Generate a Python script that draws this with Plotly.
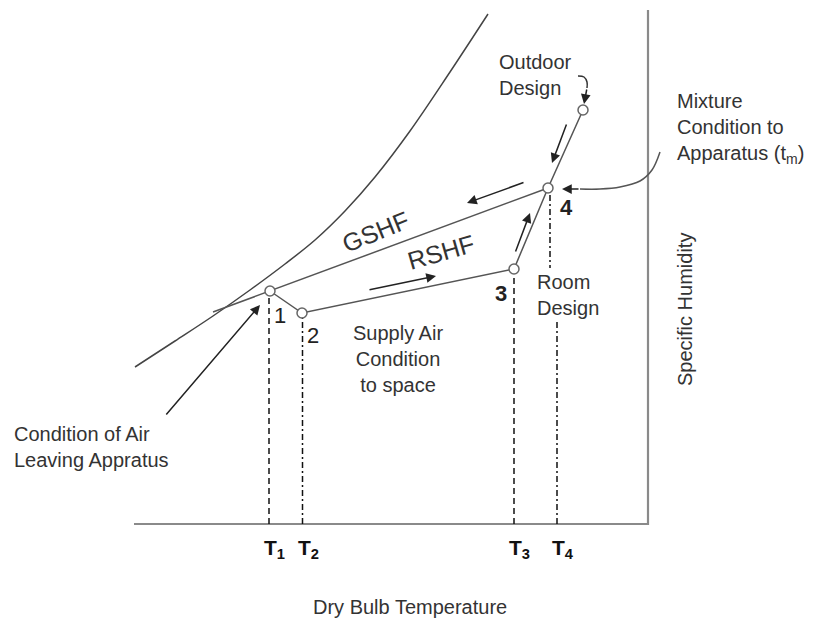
import plotly.graph_objects as go

# All values are read off the picture, in chart units
# (x grows to the right = dry bulb, y grows upward = specific humidity).

# saturation curve
sat_x = [135, 175, 213, 250, 285, 315, 345, 375, 410, 450, 488]
sat_y = [252, 278, 303, 329, 355, 379, 408, 442, 488, 547, 605]

# state points: 1 leaving apparatus, 2 supply, 3 room, 4 mixture, O outdoor
state_names = ["1", "2", "3", "4", "O"]
state_x = [270, 302, 514, 548, 583]
state_y = [328, 306, 350, 431, 509]

# apparatus dew point (GSHF line meets the saturation curve)
adp_x = 213
adp_y = 307

# axes frame
frame_x = [134, 648, 648]
frame_y = [95, 95, 609]

# temperature drop lines
t_labels = ["1", "2", "3", "4"]
t_x = [269, 302.5, 514, 557]
t_top = [322, 302, 342, 297]
t_dash = ["6px,4px", "6px,3px,2px,3px", "6px,4px", "6px,3px,2px,3px"]
t4_upper_x = 550
t4_upper_y = [424, 351]

# direction arrows (tail -> head)
arrow_tail_x = [525, 368, 515, 567, 165, 580, 587]
arrow_tail_y = [437, 329, 366, 496, 203, 430, 531]
arrow_head_x = [467, 436, 530, 552, 260, 562, 584]
arrow_head_y = [416, 343, 406, 456, 314, 430, 515]

# curved leader to the mixture point and small bracket at outdoor design
leader_x = [660, 652, 640, 620, 600, 580]
leader_y = [467, 449, 438, 432, 430, 430]
bracket_x = [578, 584, 587, 587]
bracket_y = [543, 542, 537, 531]

FONT = "Liberation Sans, Arial, sans-serif"
GREY = "#555555"

fig = go.Figure()

fig.add_trace(go.Scatter(x=frame_x, y=frame_y, mode="lines",
                         line=dict(color="#8a8a8a", width=2.2)))
fig.add_trace(go.Scatter(x=sat_x, y=sat_y, mode="lines",
                         line=dict(color="#444444", width=1.5, shape="spline", smoothing=1)))

# GSHF line from the dew point through 1 to 4
fig.add_trace(go.Scatter(x=[adp_x, state_x[0], state_x[3]],
                         y=[adp_y, state_y[0], state_y[3]], mode="lines",
                         line=dict(color=GREY, width=1.5)))
# process 1 -> 2 -> 3 -> 4 -> O
fig.add_trace(go.Scatter(x=state_x, y=state_y, mode="lines",
                         line=dict(color=GREY, width=1.5)))

for tx, top, dash in zip(t_x, t_top, t_dash):
    fig.add_trace(go.Scatter(x=[tx, tx], y=[frame_y[0], top], mode="lines",
                             line=dict(color="#111111", width=1.5, dash=dash)))
fig.add_trace(go.Scatter(x=[t4_upper_x, t4_upper_x], y=t4_upper_y, mode="lines",
                         line=dict(color="#111111", width=1.5, dash="6px,3px,2px,3px")))

fig.add_trace(go.Scatter(x=leader_x, y=leader_y, mode="lines",
                         line=dict(color=GREY, width=1.5, shape="spline")))
fig.add_trace(go.Scatter(x=bracket_x, y=bracket_y, mode="lines",
                         line=dict(color="#333333", width=1.5, shape="spline")))

fig.add_trace(go.Scatter(x=state_x, y=state_y, mode="markers",
                         marker=dict(symbol="circle", size=10, color="white",
                                     line=dict(color="#666666", width=1.5)),
                         text=state_names))

for tx0, ty0, hx, hy in zip(arrow_tail_x, arrow_tail_y, arrow_head_x, arrow_head_y):
    fig.add_annotation(x=hx, y=hy, ax=tx0, ay=ty0, axref="x", ayref="y",
                       xref="x", yref="y", text="", showarrow=True,
                       arrowhead=2, arrowsize=1.3, arrowwidth=1.5,
                       arrowcolor="#222222", standoff=0)


def label(x, y, text, size=20, anchor="left", angle=0, color="#333333"):
    fig.add_annotation(x=x, y=y, xref="x", yref="y", text=text, showarrow=False,
                       xanchor=anchor, yanchor="middle", align=anchor,
                       textangle=angle, font=dict(family=FONT, size=size, color=color))


label(497, 544, "Outdoor<br>Design")
label(675, 491, "Mixture<br>Condition to<br>Apparatus (t<sub>m</sub>)")
label(535, 324, "Room<br>Design")
label(398, 260, "Supply Air<br>Condition<br>to space", anchor="center")
label(12, 172, "Condition of Air<br>Leaving Appratus")
label(685, 309, "Specific Humidity", anchor="center", angle=-90)
label(410, 12, "Dry Bulb Temperature", anchor="center")
label(375, 387, "GSHF", size=25, anchor="center", angle=-22)
label(441, 367, "RSHF", size=25, anchor="center", angle=-16)

# numbered state labels
num_x = [280, 313, 501, 566]
num_y = [304, 284, 326, 412]
num_text = ["1", "2", "<b>3</b>", "<b>4</b>"]
for nx, ny, nt in zip(num_x, num_y, num_text):
    label(nx, ny, nt, size=22, anchor="center", color="#222222")

for tx, tl in zip(t_x, t_labels):
    label(tx - 7, 70, f"<b>T<sub>{tl}</sub></b>", size=21, color="#111111")

fig.update_layout(
    width=815, height=619,
    margin=dict(l=0, r=0, t=0, b=0),
    paper_bgcolor="white", plot_bgcolor="white",
    showlegend=False,
    xaxis=dict(range=[0, 815], visible=False, fixedrange=True),
    yaxis=dict(range=[0, 619], visible=False, fixedrange=True),
)

fig.write_html("out.html", config={"displayModeBar": False},
               post_script="document.body.style.margin='0';")
